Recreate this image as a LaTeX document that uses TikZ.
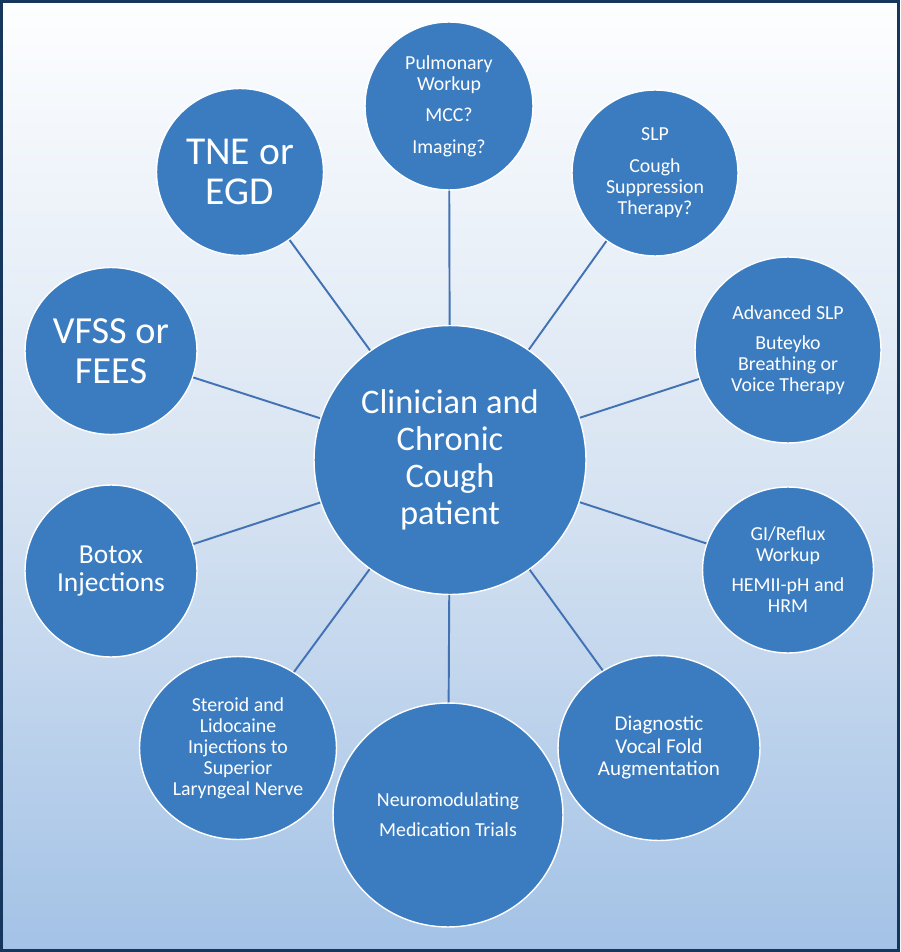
\documentclass[tikz,border=0pt]{standalone}
\usepackage{fontspec}
\setmainfont{Carlito}
\usetikzlibrary{shapes.geometric}
\definecolor{bubblue}{RGB}{59,124,192}
\definecolor{linkblue}{RGB}{66,114,180}
\definecolor{navyframe}{RGB}{23,54,93}
\definecolor{bgtop}{RGB}{253,254,255}
\definecolor{bgmid}{RGB}{216,228,242}
\definecolor{bgbot}{RGB}{163,194,230}

\begin{document}
\begin{tikzpicture}[x=0.02cm, y=-0.02cm,
  every node/.style={font=\fontsize{11.3}{12}\selectfont, text=white, align=center},
  bub/.style={draw=white, line width=0.8pt, fill=bubblue, ellipse, inner sep=0pt},
  link/.style={draw=linkblue, line width=1.1pt}]
  \useasboundingbox (0,0) rectangle (900,952);
  % background and frame
  \shade[top color=bgtop, bottom color=bgbot, middle color=bgmid] (0,0) rectangle (900,952);
  \draw[navyframe, line width=1.8pt] (1.5,1.5) rectangle (898.5,950.5);
  % centre
  \node[bub, minimum width=5.44cm, minimum height=5.38cm, font=\fontsize{19.6}{21}\selectfont] (cc) at (450,460) {Clinician and\\Chronic\\Cough\\patient};
  % ring, clockwise from the top
  \node[bub, minimum size=3.36cm] (pulm) at (449,106) {Pulmonary\\Workup\\[6pt]MCC?\\[6pt]Imaging?};
  \node[bub, minimum size=3.32cm] (slp) at (655,173) {SLP\\[6pt]Cough\\Suppression\\Therapy?};
  \node[bub, minimum size=3.72cm] (aslp) at (788,350) {Advanced SLP\\[5pt]Buteyko\\Breathing or\\Voice Therapy};
  \node[bub, minimum width=3.42cm, minimum height=3.32cm] (gi) at (788,570) {GI/Reflux\\Workup\\[5pt]HEMII-pH and\\HRM};
  \node[bub, minimum width=4.04cm, minimum height=3.70cm, font=\fontsize{12}{12.8}\selectfont] (dvf) at (659,748) {Diagnostic\\Vocal Fold\\Augmentation};
  \node[bub, minimum width=4.6cm, minimum height=4.48cm] (neuro) at (448,815) {Neuromodulating\\[5pt]Medication Trials};
  \node[bub, minimum width=3.94cm, minimum height=3.66cm] (slni) at (238,748) {Steroid and\\Lidocaine\\Injections to\\Superior\\Laryngeal Nerve};
  \node[bub, minimum size=3.44cm, font=\fontsize{15.6}{16}\selectfont] (botox) at (111,571) {Botox\\Injections};
  \node[bub, minimum width=3.44cm, minimum height=3.34cm, font=\fontsize{21.8}{22.7}\selectfont] (vfss) at (111,351) {VFSS or\\FEES};
  \node[bub, minimum size=3.34cm, font=\fontsize{22.5}{22.7}\selectfont] (tne) at (240,172) {TNE or\\EGD};
  % spokes
  \draw[link] (cc) -- (pulm);
  \draw[link] (cc) -- (slp);
  \draw[link] (cc) -- (aslp);
  \draw[link] (cc) -- (gi);
  \draw[link] (cc) -- (dvf);
  \draw[link] (cc) -- (neuro);
  \draw[link] (cc) -- (slni);
  \draw[link] (cc) -- (botox);
  \draw[link] (cc) -- (vfss);
  \draw[link] (cc) -- (tne);
\end{tikzpicture}
\end{document}
